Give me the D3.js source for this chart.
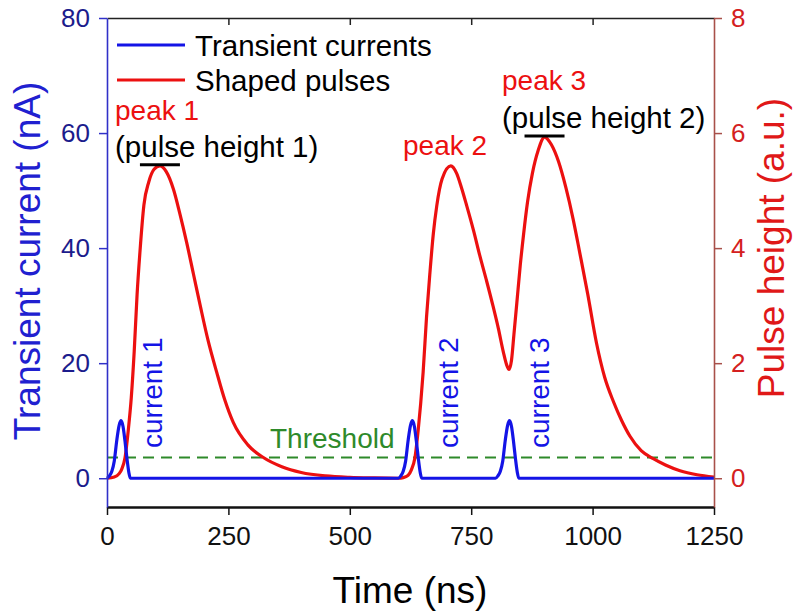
<!DOCTYPE html>
<html><head><meta charset="utf-8">
<script src="https://cdn.jsdelivr.net/npm/d3@7"></script>
<style>
body{margin:0;background:#fff}
svg{display:block}
text{font-family:"Liberation Sans",Arial,Helvetica,sans-serif}
</style>
</head><body>
<svg id="chart" width="800" height="614"></svg>
<script>
// ---------- data ----------
const timeTicks = [0, 250, 500, 750, 1000, 1250];
const currentTicks = [0, 20, 40, 60, 80];
const heightTicks = [0, 2, 4, 6, 8];

// transient currents (nA) vs time (ns)
const blueTime = [0,5,10,15,20,25,29,33,37,41,45,48,
                  600,605,610,615,620,625,629,633,637,641,645,648,
                  800,805,810,815,820,825,829,833,837,841,845,848,
                  1250];
const blueCurrent = [0,0.4,1.2,3,6.5,9.2,10,9,6.5,3.5,1,0,
                     0,0.4,1.2,3,6.5,9.2,10,9,6.5,3.5,1,0,
                     0,0.4,1.2,3,6.5,9.2,10,9,6.5,3.5,1,0,
                     0];

// shaped pulses (a.u.) vs time (ns)
const redTime = [0,15,25,30,37,44,50,56,62,68,76,86,97,109,122,137,150,164,178,192,208,226,243,260,290,322,360,400,450,500,550,600,
                 610,620,627,634,641,646,651,658,665,672,679,690,708,720,730,741,755,768,782,795,806,816,823,828,
                 833,838,844,851,858,866,876,888,901,915,930,945,960,974,990,1008,1025,1043,1060,1077,1100,1125,1150,1180,1215,1250];
const redHeight = [0,0.02,0.08,0.15,0.35,0.85,1.4,2.2,3.2,3.95,4.75,5.15,5.37,5.43,5.33,5.02,4.6,4.1,3.55,3.0,2.4,1.84,1.35,0.97,0.58,0.36,0.2,0.1,0.04,0.015,0.005,0,
                   0.01,0.05,0.15,0.35,0.85,1.3,1.84,2.8,3.57,4.25,4.73,5.2,5.43,5.3,5.05,4.73,4.3,3.86,3.42,2.99,2.6,2.2,1.97,1.89,
                   2.05,2.5,3.05,3.7,4.25,4.8,5.3,5.7,5.93,5.8,5.5,5.05,4.5,3.9,3.2,2.35,1.75,1.33,1.0,0.73,0.48,0.34,0.23,0.13,0.06,0.02];

const thresholdHeight = 0.36;           // a.u.
const peakTimes = [109, 901];           // pulse height markers
const peakHeights = [5.43, 5.93];

const legendLabels = ["Transient currents", "Shaped pulses"];
const currentLabels = ["current 1", "current 2", "current 3"];

// ---------- layout ----------
const svg = d3.select("#chart");
const L = 107, R = 714, T = 18, B = 507;
const BLUE = "#1414e6", RED = "#ec1010", GREEN = "#2e8a2a";

const x = d3.scaleLinear().domain([0, 1250]).range([L, R]);
const yL = d3.scaleLinear().domain([-5, 80]).range([B, T]);
const yR = d3.scaleLinear().domain([-0.5, 8]).range([B, T]);

// threshold
svg.append("line")
  .attr("x1", x(0)).attr("x2", x(1250))
  .attr("y1", yR(thresholdHeight)).attr("y2", yR(thresholdHeight))
  .attr("stroke", GREEN).attr("stroke-width", 2).attr("stroke-dasharray", "11,7");

// curves
const blueData = blueTime.map((t, i) => [t, blueCurrent[i]]);
const redData = redTime.map((t, i) => [t, redHeight[i]]);

svg.append("path").datum(redData)
  .attr("fill", "none").attr("stroke", RED).attr("stroke-width", 3.2)
  .attr("d", d3.line().x(d => x(d[0])).y(d => yR(d[1])).curve(d3.curveMonotoneX));

svg.append("path").datum(blueData)
  .attr("fill", "none").attr("stroke", BLUE).attr("stroke-width", 3.2)
  .attr("d", d3.line().x(d => x(d[0])).y(d => yL(d[1])).curve(d3.curveMonotoneX));

// axes
function styleAxis(g, lineColor, textColor, fs, w) {
  g.selectAll("path.domain").attr("stroke", lineColor).attr("stroke-width", w);
  g.selectAll(".tick line").attr("stroke", lineColor).attr("stroke-width", 1.5);
  g.selectAll(".tick text").attr("fill", textColor).style("font-size", fs + "px")
    .style("font-family", '"Liberation Sans",Arial,sans-serif');
}
const fmt = d3.format("d");

const gTop = svg.append("g").attr("transform", `translate(0,${T})`)
  .call(d3.axisTop(x).tickValues([250, 500, 750, 1000]).tickSize(-7).tickSizeOuter(0).tickFormat(""));
styleAxis(gTop, "#222", "#000", 26, 1.6);

const gBottom = svg.append("g").attr("transform", `translate(0,${B})`)
  .call(d3.axisBottom(x).tickValues(timeTicks).tickFormat(fmt).tickSize(8).tickSizeOuter(0).tickPadding(12));
styleAxis(gBottom, "#111", "#111", 26, 2.6);

const gLeft = svg.append("g").attr("transform", `translate(${L},0)`)
  .call(d3.axisLeft(yL).tickValues(currentTicks).tickFormat(fmt).tickSize(8).tickSizeOuter(0).tickPadding(9));
styleAxis(gLeft, "#3030c8", "#1c1c8c", 26, 1.6);

const gRight = svg.append("g").attr("transform", `translate(${R},0)`)
  .call(d3.axisRight(yR).tickValues(heightTicks).tickFormat(fmt).tickSize(8).tickSizeOuter(0).tickPadding(9));
styleAxis(gRight, "#a8504a", "#d42020", 26, 1.6);

// axis titles
svg.append("text").attr("transform", "translate(40,261) rotate(-90)")
  .attr("text-anchor", "middle").attr("fill", "#2020d0").style("font-size", "37px")
  .text("Transient current (nA)");
svg.append("text").attr("transform", "translate(784,248) rotate(-90)")
  .attr("text-anchor", "middle").attr("fill", "#e01818").style("font-size", "37px")
  .text("Pulse height (a.u.)");
svg.append("text").attr("x", 410).attr("y", 603)
  .attr("text-anchor", "middle").attr("fill", "#000").style("font-size", "37px")
  .text("Time (ns)");

// legend
const legendColors = [BLUE, RED];
const legendY = [45, 80];
legendLabels.forEach((lab, i) => {
  svg.append("line").attr("x1", 117).attr("x2", 185)
    .attr("y1", legendY[i]).attr("y2", legendY[i])
    .attr("stroke", legendColors[i]).attr("stroke-width", 3.2);
  svg.append("text").attr("x", 195).attr("y", legendY[i] + 11)
    .attr("fill", "#000").style("font-size", "29.5px").text(lab);
});

// peak annotations
svg.append("text").attr("x", 115).attr("y", 120).attr("fill", RED).style("font-size", "28px").text("peak 1");
svg.append("text").attr("x", 115).attr("y", 157).attr("fill", "#000").style("font-size", "29.5px").text("(pulse height 1)");
svg.append("text").attr("x", 403).attr("y", 155).attr("fill", RED).style("font-size", "28px").text("peak 2");
svg.append("text").attr("x", 502).attr("y", 90).attr("fill", RED).style("font-size", "28px").text("peak 3");
svg.append("text").attr("x", 502).attr("y", 128).attr("fill", "#000").style("font-size", "29.5px").text("(pulse height 2)");

peakTimes.forEach((t, i) => {
  svg.append("line")
    .attr("x1", x(t) - 20).attr("x2", x(t) + 20)
    .attr("y1", yR(peakHeights[i]) - 1).attr("y2", yR(peakHeights[i]) - 1)
    .attr("stroke", "#000").attr("stroke-width", 3);
});

// current labels (rotated)
const currentBaseX = [162, 458, 549];
currentLabels.forEach((lab, i) => {
  svg.append("text")
    .attr("transform", `translate(${currentBaseX[i]},448) rotate(-90)`)
    .attr("fill", BLUE).style("font-size", "28px").text(lab);
});

// threshold label
svg.append("text").attr("x", 270).attr("y", 448).attr("fill", GREEN)
  .style("font-size", "28px").text("Threshold");
</script>
</body></html>
